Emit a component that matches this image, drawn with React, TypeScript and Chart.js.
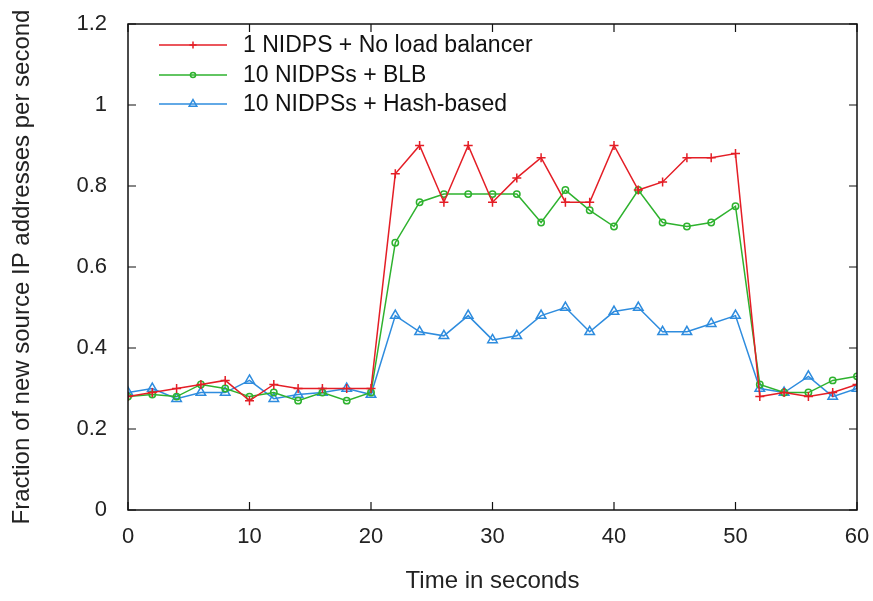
import React, { useEffect, useRef } from "react";
import { Chart, registerables } from "chart.js";

Chart.register(...registerables);

const times = [0, 2, 4, 6, 8, 10, 12, 14, 16, 18, 20, 22, 24, 26, 28, 30, 32, 34, 36, 38, 40, 42, 44, 46, 48, 50, 52, 54, 56, 58, 60];
const noLoadBalancer = [0.28, 0.29, 0.30, 0.31, 0.32, 0.27, 0.31, 0.30, 0.30, 0.30, 0.30, 0.83, 0.90, 0.76, 0.90, 0.76, 0.82, 0.87, 0.76, 0.76, 0.90, 0.79, 0.81, 0.87, 0.87, 0.88, 0.28, 0.29, 0.28, 0.29, 0.31];
const blb = [0.28, 0.285, 0.28, 0.31, 0.30, 0.28, 0.29, 0.27, 0.29, 0.27, 0.29, 0.66, 0.76, 0.78, 0.78, 0.78, 0.78, 0.71, 0.79, 0.74, 0.70, 0.79, 0.71, 0.70, 0.71, 0.75, 0.31, 0.29, 0.29, 0.32, 0.33];
const hashBased = [0.29, 0.30, 0.275, 0.29, 0.29, 0.32, 0.275, 0.285, 0.29, 0.30, 0.285, 0.48, 0.44, 0.43, 0.48, 0.42, 0.43, 0.48, 0.50, 0.44, 0.49, 0.50, 0.44, 0.44, 0.46, 0.48, 0.30, 0.29, 0.33, 0.28, 0.30];
const seriesNames = ["1 NIDPS + No load balancer", "10 NIDPSs + BLB", "10 NIDPSs + Hash-based"];
const xTitle = "Time in seconds";
const yTitle = "Fraction of new source IP addresses per second";

const RED = "rgb(228,30,38)";
const GREEN = "rgb(46,178,46)";
const BLUE = "rgb(46,140,222)";
const FONT = "'Liberation Sans', Arial, sans-serif";

function marker(ctx: CanvasRenderingContext2D, style: string, r: number, x: number, y: number) {
  ctx.beginPath();
  if (style === "cross") {
    ctx.moveTo(x - r, y);
    ctx.lineTo(x + r, y);
    ctx.moveTo(x, y - r);
    ctx.lineTo(x, y + r);
  } else if (style === "circle") {
    ctx.arc(x, y, r, 0, Math.PI * 2);
  } else {
    const s = r * Math.sqrt(3);
    ctx.moveTo(x, y - r);
    ctx.lineTo(x + s / 2, y + r / 2);
    ctx.lineTo(x - s / 2, y + r / 2);
    ctx.closePath();
  }
  ctx.stroke();
}

const frame = {
  id: "frame",
  afterDraw(chart: any) {
    const { ctx, chartArea: a } = chart;
    const xs = chart.scales.x;
    const ys = chart.scales.y;
    ctx.save();
    ctx.strokeStyle = "#111";
    ctx.lineWidth = 1.5;
    ctx.strokeRect(a.left, a.top, a.right - a.left, a.bottom - a.top);
    ctx.lineWidth = 1.2;
    const t = 8;
    ctx.beginPath();
    xs.ticks.forEach((tk: any) => {
      const px = xs.getPixelForValue(tk.value);
      ctx.moveTo(px, a.bottom);
      ctx.lineTo(px, a.bottom - t);
      ctx.moveTo(px, a.top);
      ctx.lineTo(px, a.top + t);
    });
    ys.ticks.forEach((tk: any) => {
      const py = ys.getPixelForValue(tk.value);
      ctx.moveTo(a.left, py);
      ctx.lineTo(a.left + t, py);
      ctx.moveTo(a.right, py);
      ctx.lineTo(a.right - t, py);
    });
    ctx.stroke();

    // legend
    const rows = [45, 75, 104];
    chart.data.datasets.forEach((ds: any, i: number) => {
      const y = rows[i];
      ctx.strokeStyle = ds.borderColor;
      ctx.lineWidth = 1.5;
      ctx.beginPath();
      ctx.moveTo(159, y);
      ctx.lineTo(227, y);
      ctx.stroke();
      marker(ctx, ds.pointStyle, ds.pointRadius * 0.8, 193, y);
      ctx.fillStyle = "#111";
      ctx.font = `23px ${FONT}`;
      ctx.textBaseline = "middle";
      ctx.textAlign = "left";
      ctx.fillText(ds.label, 243, y + 1);
    });
    ctx.restore();
  },
};

export default function App() {
  const ref = useRef<HTMLCanvasElement>(null);
  useEffect(() => {
    document.body.style.margin = "0";
    const mk = (label: string, data: number[], color: string, style: string, r: number) => ({
      label,
      data: times.map((t, i) => ({ x: t, y: data[i] })),
      borderColor: color,
      backgroundColor: "rgba(255,255,255,0)",
      borderWidth: 1.5,
      pointStyle: style,
      pointRadius: r,
      pointBorderWidth: 1.5,
      pointBorderColor: color,
      pointBackgroundColor: "rgba(255,255,255,0)",
      tension: 0,
    });
    const zeroPad = (s: any) => {
      s.paddingTop = 0;
      s.paddingBottom = 0;
      s.paddingLeft = 0;
      s.paddingRight = 0;
    };
    const chart = new Chart(ref.current!, {
      type: "line",
      data: {
        datasets: [
          mk(seriesNames[0], noLoadBalancer, RED, "cross", 4.5),
          mk(seriesNames[1], blb, GREEN, "circle", 3.2),
          mk(seriesNames[2], hashBased, BLUE, "triangle", 5.5),
        ],
      } as any,
      options: {
        animation: false,
        responsive: false,
        maintainAspectRatio: false,
        layout: { padding: { top: 24, right: 16, left: 0, bottom: 0 } },
        plugins: { legend: { display: false }, tooltip: { enabled: false } },
        scales: {
          x: {
            type: "linear",
            min: 0,
            max: 60,
            grid: { display: false, drawTicks: false },
            border: { display: false },
            ticks: { stepSize: 10, padding: 14, color: "#222", font: { size: 22, family: FONT } },
            title: { display: true, text: xTitle, color: "#222", font: { size: 24, family: FONT }, padding: { bottom: 5 } },
            afterFit: (s: any) => { s.height = 91; zeroPad(s); },
          },
          y: {
            type: "linear",
            min: 0,
            max: 1.2,
            grid: { display: false, drawTicks: false },
            border: { display: false },
            ticks: {
              stepSize: 0.2,
              padding: 21,
              color: "#222",
              font: { size: 22, family: FONT },
              callback: (v: any) => String(Number(Number(v).toFixed(1))),
            },
            title: { display: true, text: yTitle, color: "#222", font: { size: 24, family: FONT }, padding: { top: 8 } },
            afterFit: (s: any) => { s.width = 128; zeroPad(s); },
          },
        },
      } as any,
      plugins: [frame],
    });
    return () => chart.destroy();
  }, []);
  return (
    <div style={{ position: "absolute", left: 0, top: 0, width: 873, height: 601, background: "#fff" }}>
      <canvas ref={ref} width={873} height={601} style={{ width: 873, height: 601 }} />
    </div>
  );
}
